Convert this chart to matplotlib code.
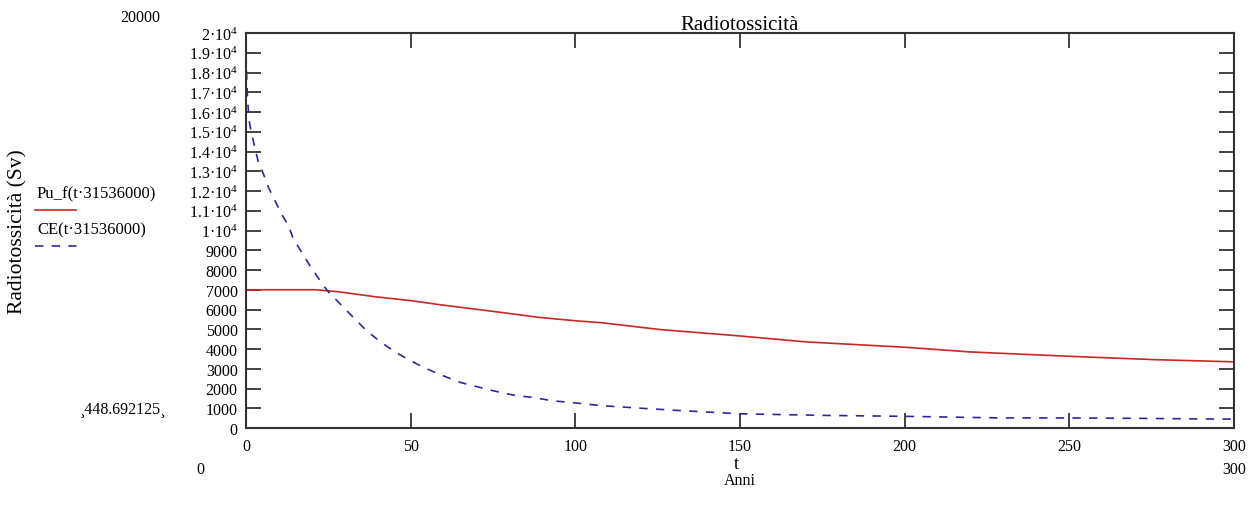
import matplotlib
matplotlib.use("Agg")
import matplotlib.pyplot as plt
from matplotlib.lines import Line2D

# years and radiotoxicity (Sv)
pu_t = [0, 10, 21, 28, 39, 50, 59, 69, 79, 89, 100, 108, 126, 150, 170, 200, 220, 250, 276, 300]
pu_v = [7000, 7000, 7000, 6900, 6650, 6450, 6240, 6030, 5820, 5600, 5430, 5330, 4980, 4660,
        4360, 4090, 3850, 3630, 3460, 3350]

ce_t = [0, 0.4, 0.9, 1.7, 2.7, 3.7, 5.3, 6.8, 8.8, 10.8, 12.9, 14.4, 16.9, 19.4, 22.5, 24.7,
        27.6, 30.6, 33.6, 36.6, 39.7, 42.7, 46.3, 50, 53.3, 56.9, 61, 65, 69, 73, 77, 82, 87,
        93, 100, 108, 120, 132, 150, 175, 200, 229, 250, 270, 290, 300]
ce_v = [18900, 16900, 15600, 14900, 14200, 13500, 12860, 12190, 11510, 10840, 10240, 9570,
        8900, 8220, 7460, 6950, 6450, 5940, 5430, 4930, 4510, 4140, 3750, 3410, 3120, 2850,
        2570, 2310, 2140, 1970, 1810, 1640, 1550, 1380, 1270, 1130, 1000, 880, 720, 640, 590,
        510, 510, 490, 460, 449]

x_ticks = [0, 50, 100, 150, 200, 250, 300]
y_ticks = list(range(0, 20001, 1000))


def y_label(v):
    if v < 10000:
        return str(v)
    return "%g\u00b710$^{4}$" % (v / 10000)


plt.rcParams["font.family"] = "Liberation Serif"
plt.rcParams["mathtext.fontset"] = "custom"
plt.rcParams["mathtext.rm"] = "Liberation Serif"
plt.rcParams["mathtext.it"] = "Liberation Serif:italic"
plt.rcParams["mathtext.default"] = "regular"
plt.rcParams["font.size"] = 11.5

RED = "#cf2424"
BLUE = "#2a2a9c"

fig = plt.figure(figsize=(12.59, 5.06), dpi=100)
ax = fig.add_axes([246 / 1259, 1 - 429 / 506, (1234 - 246) / 1259, (429 - 34) / 506])

ax.plot(pu_t, pu_v, color=RED, lw=1.2)
ax.plot(ce_t, ce_v, color=BLUE, lw=1.2, dashes=(5, 5))

ax.set_xlim(0, 300)
ax.set_ylim(0, 20000)
ax.set_xticks(x_ticks)
ax.set_xticklabels([str(v) for v in x_ticks])
ax.set_yticks(y_ticks)
ax.set_yticklabels([y_label(v) for v in y_ticks])
ax.tick_params(direction="in", length=11, width=1.2, top=True, right=True,
               labelsize=11.5, color="#222222")
ax.tick_params(axis="x", pad=7)
ax.tick_params(axis="y", pad=6)
for s in ax.spines.values():
    s.set_linewidth(1.5)
    s.set_color("#333333")

ax.set_title("Radiotossicità", fontsize=15, pad=3)

# Mathcad style extra labels
fig.text(160 / 1259, 1 - 18 / 506, "20000", ha="right", va="center")
fig.text(166 / 1259, 1 - 409 / 506, "\u00b8448.692125\u00b8", ha="right", va="center")
fig.text(200 / 1259, 1 - 470 / 506, "0", ha="center", va="center")
fig.text(1234 / 1259, 1 - 470 / 506, "300", ha="center", va="center")
fig.text(736 / 1259, 1 - 465 / 506, "t", ha="center", va="center", fontsize=13)
fig.text(740 / 1259, 1 - 481 / 506, "Anni", ha="center", va="center")
fig.text(18 / 1259, 1 - 232 / 506, "Radiotossicità (Sv)", rotation=90,
         ha="center", va="center", fontsize=15.5)

# legend drawn by hand at the left, like the original
fig.text(37 / 1259, 1 - 194 / 506, "Pu_f(t\u00b731536000)", ha="left", va="center", fontsize=12)
fig.add_artist(Line2D([35 / 1259, 76 / 1259], [1 - 211 / 506] * 2, color=RED, lw=1.2))
fig.text(37 / 1259, 1 - 230 / 506, "CE(t\u00b731536000)", ha="left", va="center", fontsize=12)
fig.add_artist(Line2D([35 / 1259, 78 / 1259], [1 - 247 / 506] * 2, color=BLUE, lw=1.2,
                      dashes=(5, 5)))

fig.savefig("out.png", dpi=100)
